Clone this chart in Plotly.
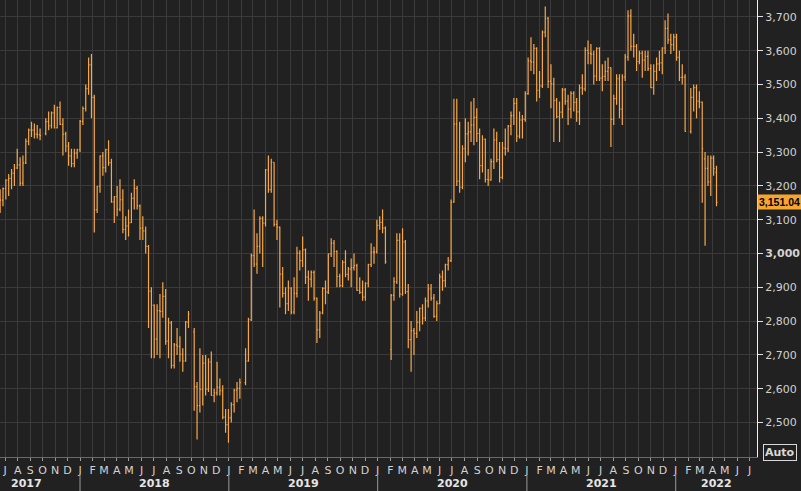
import plotly.graph_objects as go
import pandas as pd

N = None  # market closed all week

# Weekly OHLC, one entry per week (weeks starting Monday 2017-06-19)
open_2017 = [3125,3158,3192,3217,3222,3238,3253,3262,3208,3268,3332,3365,3365,3353,3352,N,3355,3390,3378,3416,3372,3432,3382,3353,3318,3289,3266,3297]
high_2017 = [3190,3195,3220,3235,3250,3265,3310,3285,3290,3340,3370,3390,3385,3380,3370,N,3400,3420,3420,3440,3435,3450,3400,3360,3330,3310,3310,3310]
low_2017 = [3120,3140,3160,3170,3190,3200,3250,3200,3200,3265,3320,3345,3340,3340,3335,N,3350,3365,3370,3370,3370,3380,3290,3300,3260,3255,3255,3280]
close_2017 = [3158,3192,3217,3222,3238,3253,3262,3208,3268,3332,3365,3365,3353,3352,3349,N,3390,3378,3416,3372,3432,3382,3353,3318,3289,3266,3297,3307]

open_2018 = [3307,3391,3429,3488,3558,3462,3129,3199,3289,3254,3307,3269,3153,3168,3131,3159,3071,3082,3091,3163,3193,3141,3075,3067,3021,2889,2847,2747,2831,2829,2873,2741,2795,2669,2730,2725,2702,2682,2797,N,2768,2606,2550,2598,2676,2599,2679,2580,2588,2605,2594,2516]
high_2018 = [3395,3435,3500,3580,3590,3470,3200,3290,3300,3310,3335,3280,3170,3200,3220,3190,3110,3130,3180,3220,3200,3145,3110,3080,3025,2900,2850,2850,2880,2915,2895,2810,2800,2735,2780,2755,2720,2800,2830,N,2780,2620,2720,2700,2700,2690,2710,2600,2680,2630,2610,2540]
low_2018 = [3300,3380,3420,3470,3400,3062,3120,3180,3230,3240,3260,3150,3090,3110,3125,3060,3040,3050,3090,3130,3130,3040,3040,3000,2780,2690,2690,2700,2690,2810,2730,2690,2660,2660,2700,2680,2650,2680,2780,N,2535,2450,2530,2550,2580,2590,2580,2560,2580,2580,2510,2470]
close_2018 = [3391,3429,3488,3558,3462,3129,3199,3289,3254,3307,3269,3153,3168,3131,3159,3071,3082,3091,3163,3193,3141,3075,3067,3021,2889,2847,2747,2831,2829,2873,2741,2795,2669,2730,2725,2702,2682,2797,2821,N,2606,2550,2598,2676,2599,2679,2580,2588,2605,2594,2516,2494]

open_2019 = [2494,2514,2553,2596,2601,N,2618,2682,2804,2994,2969,3021,3104,3090,3247,3189,3270,3086,3078,2939,2882,2852,2898,2827,2882,3001,2979,3011,2930,2924,2944,2868,2774,2824,2897,2886,2999,3031,3006,2932,2905,2974,2938,2954,2958,2964,2891,2885,2871,2912,2967,3004]
high_2019 = [2540,2560,2600,2620,2630,N,2720,2810,3000,3130,3060,3110,3110,3250,3290,3280,3270,3100,3080,2960,2900,2920,2900,2930,3020,3010,3050,3015,2950,2950,2950,2870,2830,2900,2920,3000,3045,3040,3010,2940,2980,3010,2960,2985,3000,2970,2930,2920,2915,2970,3030,3020]
low_2019 = [2440,2500,2530,2560,2570,N,2610,2680,2800,2960,2940,3000,2960,3080,3180,3180,3080,3040,2840,2870,2820,2830,2820,2820,2870,2950,2960,2910,2860,2900,2860,2735,2750,2820,2850,2880,2990,2960,2900,2900,2900,2930,2920,2900,2950,2890,2880,2860,2860,2900,2960,2970]
close_2019 = [2514,2553,2596,2601,2618,N,2682,2804,2994,2969,3021,3104,3090,3247,3189,3270,3086,3078,2939,2882,2852,2898,2827,2882,3001,2979,3011,2930,2924,2944,2868,2774,2824,2897,2886,2999,3031,3006,2932,2905,2974,2938,2954,2958,2964,2891,2885,2871,2912,2967,3004,3005]

open_2020 = [3005,3083,3092,3075,N,2716,2876,2917,3039,2880,3034,2887,2745,2772,2764,2796,2838,2809,2860,2895,2868,2814,2852,2931,2920,2967,2979,3152,3383,3214,3196,3310,3354,3360,3380,3403,3355,3260,3338,3219,3218,3272,3336,3278,3225,3312,3310,3377,3408,3444,3347,3395]
high_2020 = [3100,3110,3130,3080,N,2880,2930,3060,3060,3075,3040,2910,2800,2780,2830,2840,2850,2870,2910,2910,2880,2860,2940,2950,2970,2990,3160,3458,3458,3390,3320,3400,3390,3450,3460,3430,3370,3350,3340,3250,3280,3370,3360,3330,3330,3370,3380,3420,3460,3460,3420,3410]
low_2020 = [3000,3070,3060,2970,N,2685,2860,2910,2870,2875,2880,2720,2650,2700,2750,2770,2790,2800,2840,2860,2810,2800,2850,2890,2900,2950,2975,3150,3200,3180,3190,3270,3290,3330,3320,3330,3220,3240,3210,3200,3215,3250,3270,3210,3220,3290,3300,3350,3380,3330,3340,3340]
close_2020 = [3083,3092,3075,2976,N,2876,2917,3039,2880,3034,2887,2745,2772,2764,2796,2838,2809,2860,2895,2868,2814,2852,2931,2920,2967,2979,3152,3383,3214,3196,3310,3354,3360,3380,3403,3355,3260,3338,3219,3218,3272,3336,3278,3225,3312,3310,3377,3408,3444,3347,3395,3397]

open_2021 = [3397,3473,3570,3566,3607,3483,3496,3655,3696,3509,3502,3453,3405,3418,3484,3451,3427,3474,3447,3419,3490,3487,3601,3592,3590,3525,3607,3519,3524,3539,3550,3397,3458,3517,3427,3522,3581,3703,3613,3613,3568,3592,3572,3583,3547,3491,3539,3561,3564,3608,3666,3632,3618]
high_2021 = [3480,3580,3640,3620,3610,3540,3660,3731,3700,3560,3520,3460,3450,3490,3490,3470,3480,3480,3460,3500,3530,3610,3630,3620,3600,3610,3610,3560,3570,3580,3550,3470,3530,3530,3530,3590,3720,3723,3650,3620,3600,3600,3600,3600,3560,3560,3580,3600,3610,3690,3710,3650,3650]
low_2021 = [3390,3470,3540,3530,3450,3460,3490,3640,3490,3430,3330,3400,3330,3400,3440,3380,3400,3420,3390,3380,3470,3480,3560,3560,3500,3510,3510,3480,3510,3510,3315,3380,3440,3400,3380,3510,3570,3600,3580,3540,3560,3520,3540,3540,3490,3470,3510,3540,3530,3590,3620,3590,3600]
close_2021 = [3473,3570,3566,3607,3483,3496,3655,3696,3509,3502,3453,3405,3418,3484,3451,3427,3474,3447,3419,3490,3487,3601,3592,3590,3525,3607,3519,3524,3539,3550,3397,3458,3517,3427,3522,3581,3703,3613,3613,3568,3592,3572,3583,3547,3491,3539,3561,3564,3608,3666,3632,3618,3640]

open_2022 = [3640,3580,3521,3522,N,3361,3462,3491,3451,3448,3280,3252,3212,3282,3240]
high_2022 = [3650,3600,3560,3530,N,3490,3500,3500,3480,3450,3300,3290,3290,3290,3260]
low_2022 = [3570,3510,3500,3360,N,3355,3420,3400,3430,3150,3023,3200,3170,3230,3140]
close_2022 = [3580,3521,3522,3361,N,3462,3491,3451,3448,3310,3252,3212,3282,3251,3151.04]

last_price = 3151.04
y_ticks = [2500, 2600, 2700, 2800, 2900, 3000, 3100, 3200, 3300, 3400, 3500, 3600, 3700]
years = ["2017", "2018", "2019", "2020", "2021", "2022"]
year_label_dates = ["2017-08-23", "2018-07-02", "2019-07-02", "2020-07-02", "2021-07-02", "2022-04-11"]
month_letters = "JFMAMJJASOND"

opens = open_2017 + open_2018 + open_2019 + open_2020 + open_2021 + open_2022
highs = high_2017 + high_2018 + high_2019 + high_2020 + high_2021 + high_2022
lows = low_2017 + low_2018 + low_2019 + low_2020 + low_2021 + low_2022
closes = close_2017 + close_2018 + close_2019 + close_2020 + close_2021 + close_2022

weeks = pd.date_range("2017-06-19", periods=len(opens), freq="W-MON")
df = pd.DataFrame({"d": weeks, "o": opens, "h": highs, "l": lows, "c": closes}).dropna()

ORANGE = "#f7a845"
BG = "#212121"
GRID = "#3a3a3a"
TXT = "#d2d2d2"
FONT = "DejaVu Sans"

fig = go.Figure(go.Ohlc(
    x=df["d"], open=df["o"], high=df["h"], low=df["l"], close=df["c"],
    increasing=dict(line=dict(color=ORANGE, width=1.2)),
    decreasing=dict(line=dict(color=ORANGE, width=1.2)),
    tickwidth=0.35, hoverinfo="skip", showlegend=False,
))

months = pd.date_range("2017-07-01", "2022-07-01", freq="MS")
fig.update_xaxes(
    type="date", range=["2017-06-18 17:00", "2022-07-19 08:00"],
    tickmode="array", tickvals=months, ticktext=[month_letters[m.month - 1] for m in months],
    tickfont=dict(family=FONT, size=11, color=TXT), tickangle=0,
    ticks="outside", ticklen=3, tickcolor="#9a9a9a",
    showgrid=True, gridcolor=GRID, gridwidth=1,
    showline=True, linecolor="#6a6a6a", linewidth=1,
    rangeslider=dict(visible=False), zeroline=False,
)
fig.update_yaxes(
    side="right", range=[2398, 3750],
    tickmode="array", tickvals=y_ticks,
    ticktext=[("<b>%s</b>" if v == 3000 else "%s") % f"{v:,}" for v in y_ticks],
    tickfont=dict(family=FONT, size=11, color=TXT),
    ticks="outside", ticklen=5, tickcolor="#e0e0e0",
    showgrid=True, gridcolor=GRID, gridwidth=1,
    showline=True, linecolor="#f0f0f0", linewidth=1, zeroline=False,
)

annotations = []
for yr, d in zip(years, year_label_dates):
    annotations.append(dict(x=d, xref="x", y=-0.059, yref="paper", text=f"<b>{yr}</b>",
                            showarrow=False, xanchor="center", yanchor="middle",
                            font=dict(family=FONT, size=11, color="#e6e6e6")))
annotations.append(dict(x=1, xref="paper", y=last_price, yref="y", text="<b>3,151.04</b>",
                        showarrow=False, xanchor="left", yanchor="middle",
                        bgcolor="#f7a531", borderpad=1,
                        font=dict(family="Liberation Sans", size=10.5, color="#000000")))
annotations.append(dict(x=1, xref="paper", xshift=6, y=0.009, yref="paper", text="<b>Auto</b>",
                        showarrow=False, xanchor="left", yanchor="middle",
                        bordercolor="#d8d8d8", borderwidth=1, borderpad=1, bgcolor=BG,
                        font=dict(family=FONT, size=11, color="#d8d8d8")))

shapes = []
for y in range(2018, 2023):
    shapes.append(dict(type="line", xref="x", yref="paper", x0=f"{y}-01-01", x1=f"{y}-01-01",
                       y0=-0.037, y1=-0.0744, line=dict(color="#9a9a9a", width=1)))

fig.update_layout(
    width=801, height=491, margin=dict(l=0, r=44, t=0, b=34),
    paper_bgcolor=BG, plot_bgcolor=BG,
    annotations=annotations, shapes=shapes,
    font=dict(family=FONT, color=TXT),
    showlegend=False, hovermode=False,
)

fig.write_html("out.html", config={"displayModeBar": False},
               post_script="document.body.style.margin='0';document.body.style.background='" + BG + "';")
